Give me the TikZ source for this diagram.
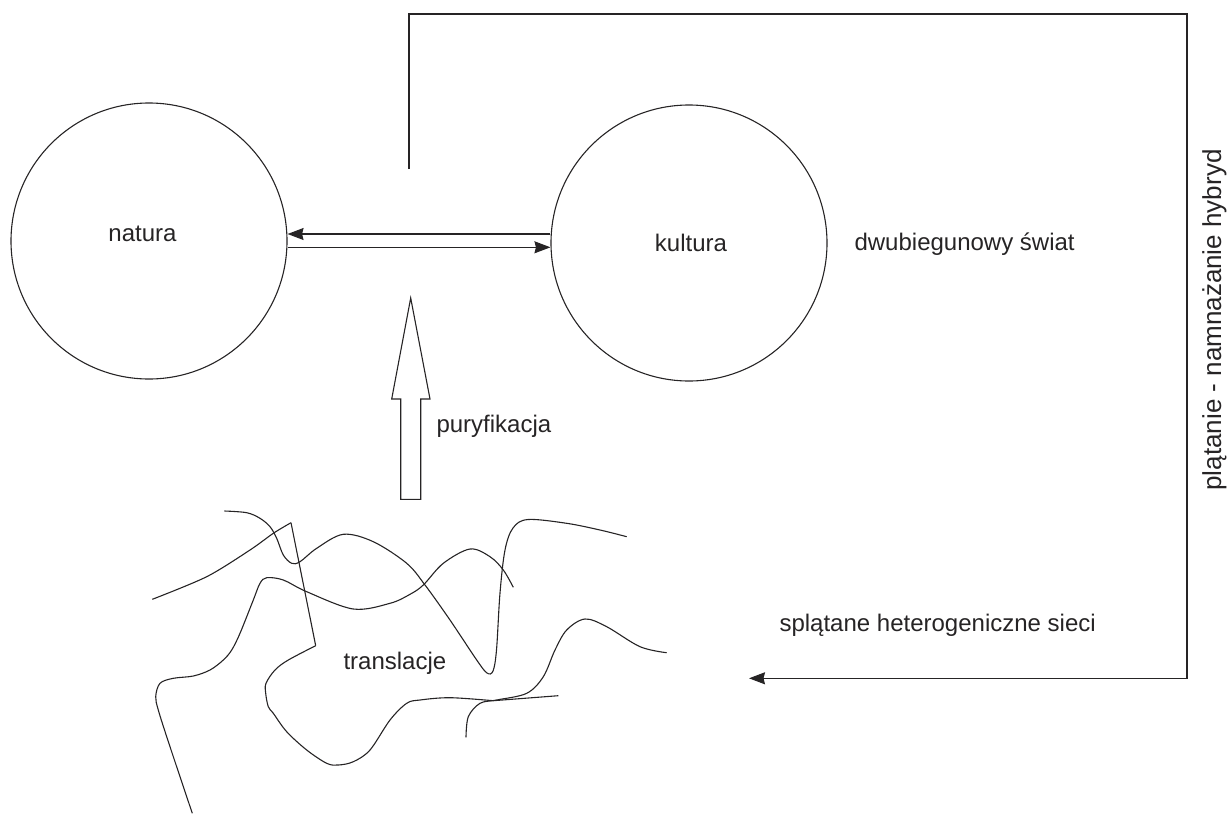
\documentclass[tikz,border=0pt]{standalone}
\usepackage{fontspec}
\setmainfont{Liberation Sans}
\usetikzlibrary{arrows.meta}
\definecolor{ink}{RGB}{38,36,37}
\begin{document}
\begin{tikzpicture}[x=1pt,y=-1pt, color=ink, line width=1.1pt,
  pole/.style={circle, draw=ink, line width=1.1pt, minimum size=276pt, inner sep=0pt},
  lbl/.style={text=ink, font=\fontsize{24}{28}\selectfont, inner sep=0pt},
  tip/.style={-{Stealth[length=16pt,width=12pt,inset=1.5pt]}},
  netline/.style={draw=ink, line width=1.1pt},
]
\useasboundingbox (0,0) rectangle (1228,814);

% poles
\node[pole] (nat) at (149,241) {};
\node[pole] (kul) at (689,243) {};
\node[lbl, anchor=base] (natT) at (142.5,241.7) {natura};
\node[lbl, anchor=base] (kulT) at (691,251.5) {kultura};
\node[lbl, anchor=base west] (dwu) at (854,250) {dwubiegunowy świat};

% double arrows
\draw[tip] ([yshift=9pt]kul.west) -- ([yshift=7pt]nat.east);
\draw[tip] ([yshift=-6.3pt]nat.east) -- ([yshift=-4.3pt]kul.west);

% hollow arrow (puryfikacja)
\draw[line join=miter] (410.7,298) -- (430,399) -- (420.7,399) -- (420.7,499.3)
  -- (400.7,499.3) -- (400.7,399) -- (391.7,399) -- cycle;
\node[lbl, anchor=base west] (pur) at (436,432.5) {puryfikacja};

% feedback loop
\coordinate (fbS) at (409,169);
\coordinate (fbE) at (749,678.3);
\draw[tip] (fbS) |- (1187,14) |- (fbE);
\node[lbl, font=\fontsize{26}{30}\selectfont, anchor=base, rotate=90] (plat) at (1221,320) {plątanie - namnażanie hybryd};
\node[lbl, anchor=base west] (spl) at (779,631.7) {splątane heterogeniczne sieci};

% tangled network
\node[lbl, anchor=base west] (tra) at (343,669) {translacje};

% curve A
\draw[netline] plot[smooth, tension=0.55] coordinates {(224.3,511) (246.7,512.7) (260,518.3) (270,526.7) (276.7,538.3) (283.3,555) (291.7,563.3) (300,561.7) (316.7,548.3) (343.3,534.3) (373.3,541.7) (406.7,563.3) (425,585) (450,620) (476.7,660) (487,673) (493,671) (496.5,650) (500,593) (505,550) (513,528) (528,519.5) (566.7,523.3) (600,530) (626.7,536.7)};

% curve B
\draw[netline] plot[smooth, tension=0.5] coordinates {(152.3,599.3) (206.7,576.7) (250,550) (273.3,533.3) (291,522.7)};
\draw[netline] (291,522.7) -- (315.7,645.7);
\draw[netline] plot[smooth, tension=0.55] coordinates {(315.7,645.7) (288.3,660) (275,670) (266,683.3) (265.7,693.3) (268.3,706.7) (273.3,713.3) (286.7,731.7) (306.7,750) (326.7,763.3) (338.3,765) (353.3,761.7) (370,750) (390,720) (406.7,703.3) (420,700) (450,697.7) (493.3,700.7)};
\draw[netline] (493.3,700.7) -- (558.3,695.7);

% curve E
\draw[netline] plot[smooth, tension=0.55] coordinates {(192.3,813.3) (180,776.7) (166.7,736.7) (158.3,710) (155.7,696.7) (160,683.3) (173.3,678.3) (193.3,676) (210,670) (223.3,660) (231.7,650) (240,633.3) (253.3,600) (260,583.3) (266.7,577.7) (283.3,580) (306.7,591.7) (353.3,609) (390,603.3) (410,594.3) (423.3,585) (443.3,563.3) (470,549) (490,556.7) (503.3,570) (513.3,587.3)};

% curve D
\draw[netline] plot[smooth, tension=0.55] coordinates {(466,737.3) (468.3,716.7) (480,703.3) (496.7,700) (526.7,693.3) (543.3,676.7) (555,650) (566.7,630) (585,619) (606.7,626.7) (640,646.7) (666.7,652.7)};
\end{tikzpicture}
\end{document}
